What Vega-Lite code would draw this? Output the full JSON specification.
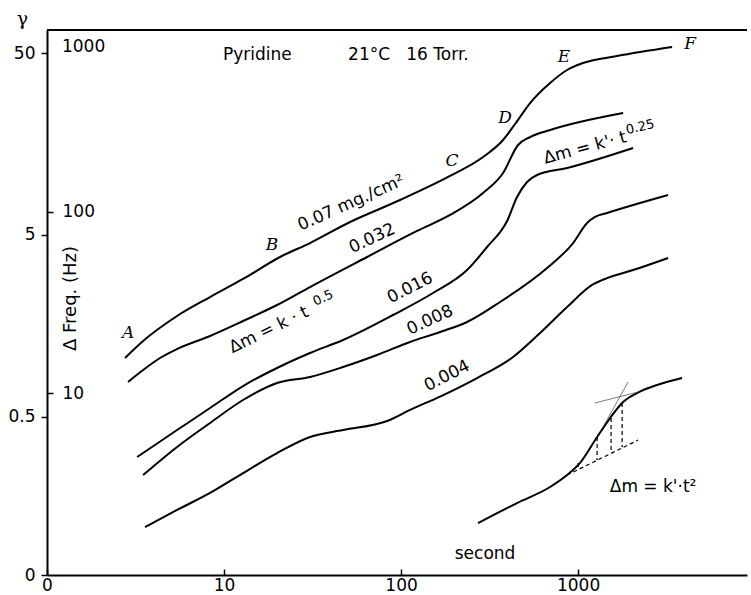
{
  "$schema": "https://vega.github.io/schema/vega-lite/v6.json",
  "width": 700,
  "height": 545,
  "autosize": {"type": "none"},
  "padding": {"left": 47, "top": 30, "right": 4, "bottom": 20},
  "background": "white",
  "config": {"view": {"stroke": null}, "font": "DejaVu Sans"},
  "datasets": {
    "curves": [
      {"s": "c1", "t": 2.76, "f": 15.65}, {"s": "c1", "t": 3.49, "f": 19.41}, {"s": "c1", "t": 5.43, "f": 26.65}, {"s": "c1", "t": 8.34, "f": 33.9}, {"s": "c1", "t": 12.81, "f": 42.6}, {"s": "c1", "t": 20.72, "f": 56.3}, {"s": "c1", "t": 30.6, "f": 67.2}, {"s": "c1", "t": 51.5, "f": 87.7}, {"s": "c1", "t": 98.7, "f": 115.9}, {"s": "c1", "t": 189.2, "f": 157.2}, {"s": "c1", "t": 290.6, "f": 199.9}, {"s": "c1", "t": 377, "f": 248}, {"s": "c1", "t": 440.8, "f": 303.8}, {"s": "c1", "t": 535.6, "f": 396.3}, {"s": "c1", "t": 694.8, "f": 510.8}, {"s": "c1", "t": 866.9, "f": 602.4}, {"s": "c1", "t": 1067, "f": 658.1}, {"s": "c1", "t": 1661, "f": 719.3}, {"s": "c1", "t": 3398, "f": 806.2},
      {"s": "c2", "t": 2.87, "f": 11.55}, {"s": "c2", "t": 3.49, "f": 13.44}, {"s": "c2", "t": 4.35, "f": 15.65}, {"s": "c2", "t": 5.43, "f": 17.54}, {"s": "c2", "t": 8.34, "f": 20.69}, {"s": "c2", "t": 12.81, "f": 25.01}, {"s": "c2", "t": 19.93, "f": 30.64}, {"s": "c2", "t": 30.6, "f": 38.48}, {"s": "c2", "t": 64.3, "f": 56.3}, {"s": "c2", "t": 123.1, "f": 78.3}, {"s": "c2", "t": 189.2, "f": 95.9}, {"s": "c2", "t": 290.6, "f": 126.7}, {"s": "c2", "t": 377, "f": 163.3}, {"s": "c2", "t": 458, "f": 232.8}, {"s": "c2", "t": 535.6, "f": 257.6}, {"s": "c2", "t": 694.8, "f": 281.5}, {"s": "c2", "t": 1796, "f": 349.2},
      {"s": "c3", "t": 3.23, "f": 4.46}, {"s": "c3", "t": 5.43, "f": 6.28}, {"s": "c3", "t": 8.34, "f": 8.3}, {"s": "c3", "t": 12.81, "f": 10.97}, {"s": "c3", "t": 19.93, "f": 13.79}, {"s": "c3", "t": 30.6, "f": 16.67}, {"s": "c3", "t": 47.0, "f": 19.66}, {"s": "c3", "t": 90.1, "f": 26.99}, {"s": "c3", "t": 151.6, "f": 35.67}, {"s": "c3", "t": 236, "f": 47.7}, {"s": "c3", "t": 306.2, "f": 63.9}, {"s": "c3", "t": 397.2, "f": 88.8}, {"s": "c3", "t": 452.2, "f": 120.4}, {"s": "c3", "t": 515, "f": 145.7}, {"s": "c3", "t": 586.6, "f": 159.2}, {"s": "c3", "t": 866.9, "f": 173.9}, {"s": "c3", "t": 2045, "f": 224.1},
      {"s": "c4", "t": 3.49, "f": 3.55}, {"s": "c4", "t": 5.43, "f": 5.07}, {"s": "c4", "t": 8.34, "f": 6.87}, {"s": "c4", "t": 12.81, "f": 9.19}, {"s": "c4", "t": 19.93, "f": 11.4}, {"s": "c4", "t": 30.6, "f": 12.3}, {"s": "c4", "t": 47.0, "f": 13.96}, {"s": "c4", "t": 73.2, "f": 16.26}, {"s": "c4", "t": 112.4, "f": 19.17}, {"s": "c4", "t": 166.1, "f": 21.76}, {"s": "c4", "t": 236, "f": 24.7}, {"s": "c4", "t": 362.5, "f": 31.82}, {"s": "c4", "t": 668.3, "f": 48.97}, {"s": "c4", "t": 937.2, "f": 67.2}, {"s": "c4", "t": 1124, "f": 86.6}, {"s": "c4", "t": 1247, "f": 93.5}, {"s": "c4", "t": 1458, "f": 98.3}, {"s": "c4", "t": 3225, "f": 123.5},
      {"s": "c5", "t": 3.58, "f": 1.837}, {"s": "c5", "t": 5.43, "f": 2.28}, {"s": "c5", "t": 8.34, "f": 2.83}, {"s": "c5", "t": 12.81, "f": 3.64}, {"s": "c5", "t": 19.93, "f": 4.69}, {"s": "c5", "t": 30.6, "f": 5.75}, {"s": "c5", "t": 47.0, "f": 6.28}, {"s": "c5", "t": 83.4, "f": 7.04}, {"s": "c5", "t": 112.4, "f": 8.1}, {"s": "c5", "t": 166.1, "f": 9.6}, {"s": "c5", "t": 268.8, "f": 12.14}, {"s": "c5", "t": 429.3, "f": 15.85}, {"s": "c5", "t": 610, "f": 21.48}, {"s": "c5", "t": 866.9, "f": 29.87}, {"s": "c5", "t": 1200, "f": 39.5}, {"s": "c5", "t": 1458, "f": 43.1}, {"s": "c5", "t": 2045, "f": 47.7}, {"s": "c5", "t": 3225, "f": 55.6},
      {"s": "c6", "t": 272.3, "f": 1.932}, {"s": "c6", "t": 452.2, "f": 2.49}, {"s": "c6", "t": 694.8, "f": 3.05}, {"s": "c6", "t": 866.9, "f": 3.55}, {"s": "c6", "t": 1026, "f": 4.14}, {"s": "c6", "t": 1281, "f": 5.75}, {"s": "c6", "t": 1516, "f": 7.31}, {"s": "c6", "t": 1796, "f": 8.96}, {"s": "c6", "t": 2154, "f": 10.04}, {"s": "c6", "t": 2795, "f": 11.12}, {"s": "c6", "t": 3869, "f": 12.14}
    ],
    "dashes": [
      {"t": 866.9, "f": 3.55, "t2": 2183, "f2": 5.53},
      {"t": 1000, "f": 4.14, "t2": 1000, "f2": 3.78},
      {"t": 1281, "f": 5.75, "t2": 1281, "f2": 4.3},
      {"t": 1536, "f": 7.31, "t2": 1536, "f2": 4.69},
      {"t": 1774, "f": 8.85, "t2": 1774, "f2": 5.07}
    ],
    "thin": [
      {"t": 1384, "f": 6.53, "t2": 1917, "f2": 11.55},
      {"t": 1247, "f": 8.85, "t2": 2183, "f2": 10.17}
    ],
    "letters": [
      {"t": 2.87, "f": 21.48, "label": "A"},
      {"t": 18.67, "f": 65.5, "label": "B"},
      {"t": 194.1, "f": 190.1, "label": "C"},
      {"t": 386.9, "f": 327.8, "label": "D"},
      {"t": 833.5, "f": 710, "label": "E"},
      {"t": 4294, "f": 837.4, "label": "F"}
    ],
    "leftText": [
      {"t": 9.87, "f": 683.8, "label": "Pyridine"},
      {"t": 50.2, "f": 683.8, "label": "21°C\u00a0\u00a0\u00a016 Torr."},
      {"t": 1.215, "f": 756.8, "label": "1000"}
    ],
    "centerText": [
      {"t": 298.3, "f": 1.305, "label": "second"},
      {"t": 2653, "f": 3.05, "label": "Δm = k'·t²"}
    ],
    "rot24": [{"t": 52.2, "f": 111.6, "label": "0.07 mg./cm²"}],
    "rot25": [{"t": 68.6, "f": 71.2, "label": "0.032"}, {"t": 145.8, "f": 25.3, "label": "0.008"}],
    "rot27": [{"t": 181.9, "f": 12.46, "label": "0.004"}, {"t": 112.4, "f": 38.0, "label": "0.016"}],
    "rot26": [{"t": 17.96, "f": 22.32, "label": "Δm = k · t"}],
    "sup26": [{"t": 36.3, "f": 33.5, "label": "0.5"}],
    "rot15": [{"t": 1095, "f": 224.1, "label": "Δm = k'· t"}],
    "sup13": [{"t": 2240, "f": 292.4, "label": "0.25"}]
  },
  "layer": [
    {
      "layer": [
        {
          "data": {"name": "curves"},
          "mark": {"type": "line", "color": "black", "strokeWidth": 2, "interpolate": "monotone"},
          "encoding": {
            "x": {"field": "t", "type": "quantitative", "scale": {"type": "log", "domain": [1, 9000], "nice": false},
              "axis": {"values": [1, 10, 100, 1000], "labelExpr": "datum.value < 2 ? '0' : format(datum.value, 'd')", "tickSize": -6, "tickWidth": 1.5, "tickColor": "black", "labelPadding": 8, "labelFontSize": 17, "labelColor": "black", "labelFlush": false, "domainColor": "black", "domainWidth": 2, "grid": false, "title": null, "labelFont": "DejaVu Sans"}},
            "y": {"field": "f", "type": "quantitative", "scale": {"type": "log", "domain": [1, 1000], "nice": false},
              "axis": {"orient": "left", "values": [1, 7.44, 74.4, 744], "labelExpr": "datum.value < 2 ? '0' : datum.value < 10 ? '0.5' : datum.value < 100 ? '5' : '50'", "tickSize": 6, "tickWidth": 1.5, "tickColor": "black", "labelPadding": 6, "labelFontSize": 17, "labelColor": "black", "labelFlush": false, "labelFont": "DejaVu Sans", "domainColor": "black", "domainWidth": 2, "grid": false, "title": "γ", "titleAngle": 0, "titleX": -25, "titleY": -12, "titleAlign": "center", "titleBaseline": "middle", "titleFontSize": 19, "titleFontWeight": "normal", "titleFont": "DejaVu Serif", "titleColor": "black"}},
            "detail": {"field": "s"}
          }
        },
        {
          "data": {"name": "dashes"},
          "mark": {"type": "rule", "color": "black", "strokeWidth": 1.2, "strokeDash": [4, 3]},
          "encoding": {"x": {"field": "t", "type": "quantitative"}, "y": {"field": "f", "type": "quantitative"}, "x2": {"field": "t2"}, "y2": {"field": "f2"}}
        },
        {
          "data": {"name": "thin"},
          "mark": {"type": "rule", "color": "#444", "strokeWidth": 0.7},
          "encoding": {"x": {"field": "t", "type": "quantitative"}, "y": {"field": "f", "type": "quantitative"}, "x2": {"field": "t2"}, "y2": {"field": "f2"}}
        },
        {
          "data": {"name": "letters"},
          "mark": {"type": "text", "font": "DejaVu Serif", "fontStyle": "italic", "fontSize": 17, "align": "center", "baseline": "middle", "color": "black"},
          "encoding": {"x": {"field": "t", "type": "quantitative"}, "y": {"field": "f", "type": "quantitative"}, "text": {"field": "label"}}
        },
        {
          "data": {"name": "leftText"},
          "mark": {"type": "text", "font": "DejaVu Sans", "fontSize": 17, "align": "left", "baseline": "alphabetic", "color": "black"},
          "encoding": {"x": {"field": "t", "type": "quantitative"}, "y": {"field": "f", "type": "quantitative"}, "text": {"field": "label"}}
        },
        {
          "data": {"name": "centerText"},
          "mark": {"type": "text", "font": "DejaVu Sans", "fontSize": 17, "align": "center", "baseline": "middle", "color": "black"},
          "encoding": {"x": {"field": "t", "type": "quantitative"}, "y": {"field": "f", "type": "quantitative"}, "text": {"field": "label"}}
        },
        {
          "data": {"name": "rot24"},
          "mark": {"type": "text", "font": "DejaVu Sans", "fontSize": 17, "align": "center", "baseline": "middle", "angle": -24, "color": "black"},
          "encoding": {"x": {"field": "t", "type": "quantitative"}, "y": {"field": "f", "type": "quantitative"}, "text": {"field": "label"}}
        },
        {
          "data": {"name": "rot25"},
          "mark": {"type": "text", "font": "DejaVu Sans", "fontSize": 17, "align": "center", "baseline": "middle", "angle": -25, "color": "black"},
          "encoding": {"x": {"field": "t", "type": "quantitative"}, "y": {"field": "f", "type": "quantitative"}, "text": {"field": "label"}}
        },
        {
          "data": {"name": "rot27"},
          "mark": {"type": "text", "font": "DejaVu Sans", "fontSize": 17, "align": "center", "baseline": "middle", "angle": -27, "color": "black"},
          "encoding": {"x": {"field": "t", "type": "quantitative"}, "y": {"field": "f", "type": "quantitative"}, "text": {"field": "label"}}
        },
        {
          "data": {"name": "rot26"},
          "mark": {"type": "text", "font": "DejaVu Sans", "fontSize": 17, "align": "center", "baseline": "middle", "angle": -26, "color": "black"},
          "encoding": {"x": {"field": "t", "type": "quantitative"}, "y": {"field": "f", "type": "quantitative"}, "text": {"field": "label"}}
        },
        {
          "data": {"name": "sup26"},
          "mark": {"type": "text", "font": "DejaVu Sans", "fontSize": 13, "align": "center", "baseline": "middle", "angle": -26, "color": "black"},
          "encoding": {"x": {"field": "t", "type": "quantitative"}, "y": {"field": "f", "type": "quantitative"}, "text": {"field": "label"}}
        },
        {
          "data": {"name": "rot15"},
          "mark": {"type": "text", "font": "DejaVu Sans", "fontSize": 17, "align": "center", "baseline": "middle", "angle": -15, "color": "black"},
          "encoding": {"x": {"field": "t", "type": "quantitative"}, "y": {"field": "f", "type": "quantitative"}, "text": {"field": "label"}}
        },
        {
          "data": {"name": "sup13"},
          "mark": {"type": "text", "font": "DejaVu Sans", "fontSize": 13, "align": "center", "baseline": "middle", "angle": -13, "color": "black"},
          "encoding": {"x": {"field": "t", "type": "quantitative"}, "y": {"field": "f", "type": "quantitative"}, "text": {"field": "label"}}
        }
      ]
    },
    {
      "data": {"values": [{}]},
      "mark": {"type": "rule", "color": "black", "strokeWidth": 2},
      "encoding": {
        "y": {"datum": 1000, "type": "quantitative", "scale": {"type": "log", "domain": [1, 1000], "nice": false},
          "axis": {"orient": "left", "values": [10, 100], "format": "d", "tickSize": -6, "tickWidth": 1.5, "tickColor": "black", "labelAlign": "left", "labelBaseline": "middle", "labelPadding": -9, "domain": false, "grid": false, "labelFontSize": 17, "labelColor": "black", "labelFont": "DejaVu Sans", "labelFlush": false, "title": "Δ Freq. (Hz)", "titleX": 23, "titleY": 268, "titleAngle": -90, "titleAlign": "center", "titleBaseline": "middle", "titleFontSize": 18, "titleFontWeight": "normal", "titleFont": "DejaVu Sans", "titleColor": "black"}}
      }
    }
  ],
  "resolve": {"scale": {"y": "independent"}}
}
